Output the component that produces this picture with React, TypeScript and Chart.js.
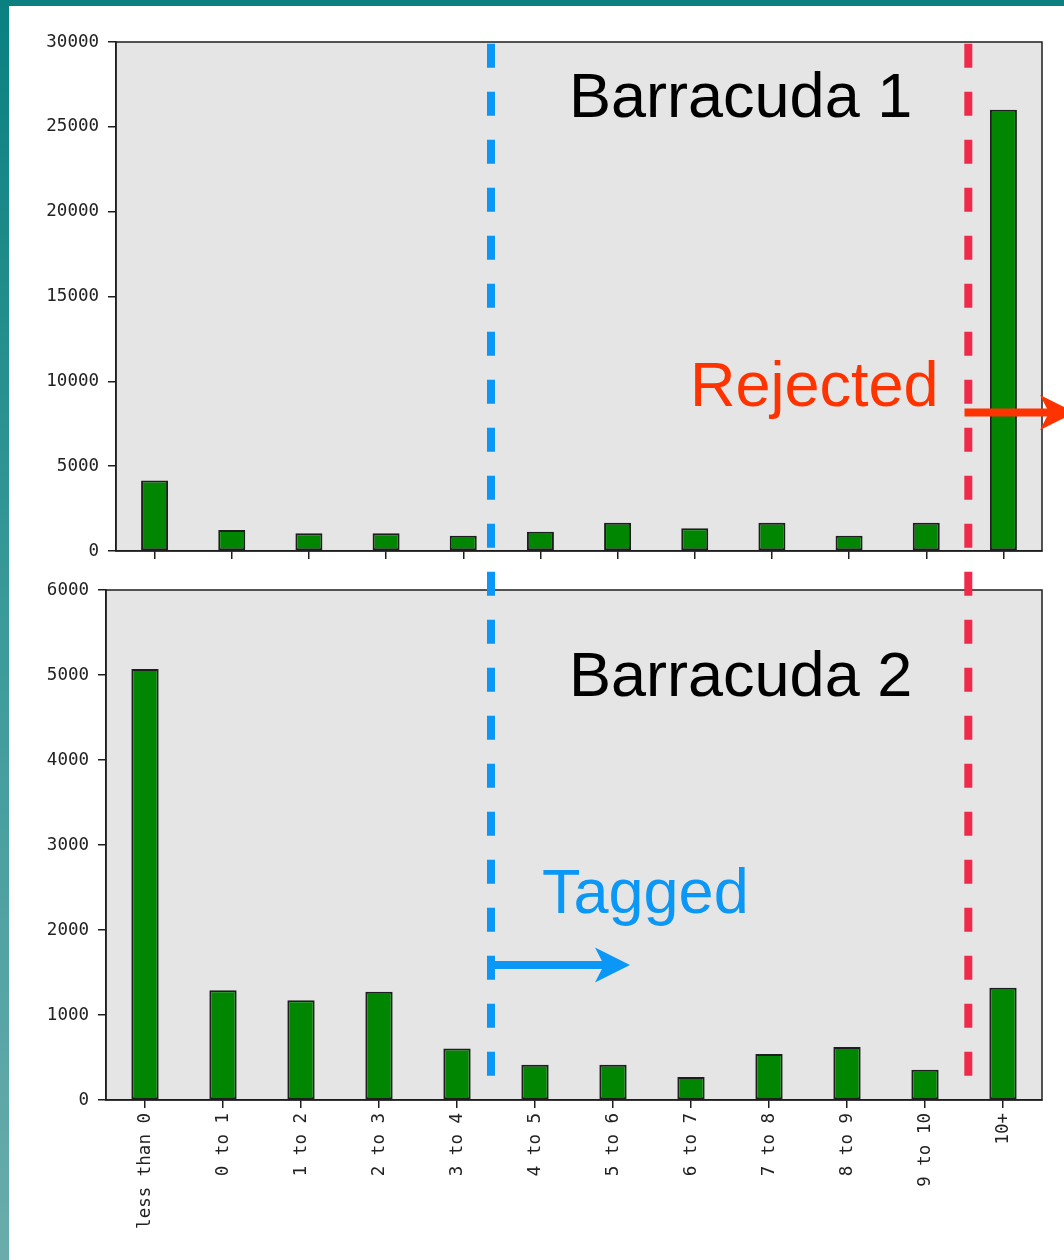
import React, { useEffect, useRef } from 'react';
import { Chart, registerables } from 'chart.js';

Chart.register(...registerables);

// ---- data ----
const categories = [
  'less than 0', '0 to 1', '1 to 2', '2 to 3', '3 to 4', '4 to 5',
  '5 to 6', '6 to 7', '7 to 8', '8 to 9', '9 to 10', '10+',
];
const barracuda1Values = [4160, 1240, 1040, 1040, 900, 1140, 1670, 1340, 1670, 900, 1670, 26000];
const barracuda2Values = [5070, 1290, 1175, 1275, 605, 415, 415, 270, 540, 625, 355, 1320];
const barracuda1YTicks = [0, 5000, 10000, 15000, 20000, 25000, 30000];
const barracuda2YTicks = [0, 1000, 2000, 3000, 4000, 5000, 6000];
const chartTitles = ['Barracuda 1', 'Barracuda 2'];
const rejectedLabel = 'Rejected';
const taggedLabel = 'Tagged';

// ---- styles / layout ----
const W = 1064;
const H = 1260;
const BAR_GREEN = '#018601';
const FRAME = '#1e1e1e';
const PLOT_BG = '#e5e5e5';
const BLUE = '#0a97f5';
const RED_DASH = '#f02a4b';
const RED = '#ff3300';
const TICK_FONT = { family: '"DejaVu Sans Mono", monospace', size: 17.5 };
const BIG_FONT = '63px "Liberation Sans", Arial, Helvetica, sans-serif';

const plotFrame = {
  id: 'plotFrame',
  beforeDraw(chart: any) {
    const { ctx, chartArea } = chart;
    ctx.save();
    ctx.fillStyle = PLOT_BG;
    ctx.fillRect(chartArea.left, chartArea.top, chartArea.right - chartArea.left, chartArea.bottom - chartArea.top);
    ctx.restore();
  },
  afterDatasetsDraw(chart: any) {
    const { ctx, chartArea } = chart;
    ctx.save();
    ctx.strokeStyle = FRAME;
    ctx.lineWidth = 1.5;
    ctx.strokeRect(chartArea.left, chartArea.top, chartArea.right - chartArea.left, chartArea.bottom - chartArea.top);
    ctx.restore();
  },
};

function arrow(ctx: CanvasRenderingContext2D, x0: number, y: number, tipX: number, color: string) {
  ctx.save();
  ctx.strokeStyle = color;
  ctx.fillStyle = color;
  ctx.lineWidth = 8;
  ctx.setLineDash([]);
  ctx.beginPath();
  ctx.moveTo(x0, y);
  ctx.lineTo(tipX - 26, y);
  ctx.stroke();
  ctx.beginPath();
  ctx.moveTo(tipX, y);
  ctx.lineTo(tipX - 35, y - 17.5);
  ctx.lineTo(tipX - 26, y);
  ctx.lineTo(tipX - 35, y + 17.5);
  ctx.closePath();
  ctx.fill();
  ctx.restore();
}

const annotations = {
  id: 'annotations',
  afterDraw(chart: any) {
    const ctx: CanvasRenderingContext2D = chart.ctx;
    ctx.save();
    // dashed vertical separators spanning both panels
    ctx.lineWidth = 8;
    ctx.lineCap = 'butt';
    ctx.setLineDash([24, 24]);
    ctx.strokeStyle = BLUE;
    ctx.beginPath();
    ctx.moveTo(491, 43.7);
    ctx.lineTo(491, 1075.7);
    ctx.stroke();
    ctx.strokeStyle = RED_DASH;
    ctx.beginPath();
    ctx.moveTo(968.3, 43.7);
    ctx.lineTo(968.3, 1075.7);
    ctx.stroke();
    ctx.restore();

    arrow(ctx, 487, 965, 630, BLUE);
    arrow(ctx, 964.5, 412.5, 1075, RED);

    ctx.save();
    ctx.font = BIG_FONT;
    ctx.textBaseline = 'alphabetic';
    ctx.textAlign = 'left';
    ctx.fillStyle = '#000';
    ctx.fillText(chartTitles[0], 569, 117);
    ctx.fillText(chartTitles[1], 569, 696);
    ctx.fillStyle = RED;
    ctx.fillText(rejectedLabel, 690, 406);
    ctx.fillStyle = BLUE;
    ctx.fillText(taggedLabel, 542, 913);
    ctx.restore();
  },
};

function makeConfig(values: number[], yTicks: number[], opts: {
  left: number; top: number; bottom: number; xHeight: number; showX: boolean; extra?: any[];
}) {
  return {
    type: 'bar' as const,
    data: {
      labels: categories,
      datasets: [{
        data: values,
        backgroundColor: BAR_GREEN,
        borderColor: FRAME,
        borderWidth: 2,
        borderSkipped: false,
        barPercentage: 0.35,
        categoryPercentage: 1,
      }],
    },
    options: {
      responsive: false,
      animation: false,
      devicePixelRatio: 1,
      layout: { padding: { left: 0, right: W - 1042, top: opts.top, bottom: opts.bottom } },
      plugins: { legend: { display: false }, title: { display: false }, tooltip: { enabled: false } },
      scales: {
        x: {
          type: 'category',
          offset: true,
          grid: { offset: false, drawOnChartArea: false, drawTicks: true, tickLength: 8, color: FRAME, lineWidth: 1.5 },
          border: { display: true, color: FRAME, width: 1.5 },
          ticks: {
            display: opts.showX,
            autoSkip: false,
            minRotation: 90,
            maxRotation: 90,
            padding: 5,
            color: '#222',
            font: TICK_FONT,
          },
          afterFit: (scale: any) => { scale.height = opts.xHeight; },
        },
        y: {
          min: yTicks[0],
          max: yTicks[yTicks.length - 1],
          afterBuildTicks: (scale: any) => { scale.ticks = yTicks.map((v) => ({ value: v })); },
          grid: { drawOnChartArea: false, drawTicks: true, tickLength: 8, color: FRAME, lineWidth: 1.5 },
          border: { display: true, color: FRAME, width: 1.5 },
          ticks: { padding: 9, color: '#222', font: TICK_FONT, callback: (v: any) => String(v) },
          afterFit: (scale: any) => { scale.width = opts.left; },
        },
      },
    },
    plugins: [plotFrame, ...(opts.extra || [])],
  };
}

export default function App() {
  const topRef = useRef<HTMLCanvasElement | null>(null);
  const bottomRef = useRef<HTMLCanvasElement | null>(null);

  useEffect(() => {
    const top = new Chart(topRef.current as HTMLCanvasElement, makeConfig(barracuda1Values, barracuda1YTicks, {
      left: 116, top: 42, bottom: H - 551 - 10, xHeight: 10, showX: false,
    }) as any);
    const bottom = new Chart(bottomRef.current as HTMLCanvasElement, makeConfig(barracuda2Values, barracuda2YTicks, {
      left: 106, top: 590, bottom: 0, xHeight: H - 1100, showX: true, extra: [annotations],
    }) as any);
    return () => {
      top.destroy();
      bottom.destroy();
    };
  }, []);

  const abs: React.CSSProperties = { position: 'absolute', left: 0, top: 0, width: W, height: H };
  return (
    <div style={{ ...abs, background: '#fff', overflow: 'hidden' }}>
      <div style={{ position: 'absolute', left: 0, top: 0, width: 9, height: H, background: 'linear-gradient(#0a8080, #3c9a9a 50%, #6aacac)' }} />
      <div style={{ position: 'absolute', left: 0, top: 0, width: W, height: 6, background: '#0a8080' }} />
      <canvas ref={topRef} width={W} height={H} style={abs} />
      <canvas ref={bottomRef} width={W} height={H} style={abs} />
    </div>
  );
}
